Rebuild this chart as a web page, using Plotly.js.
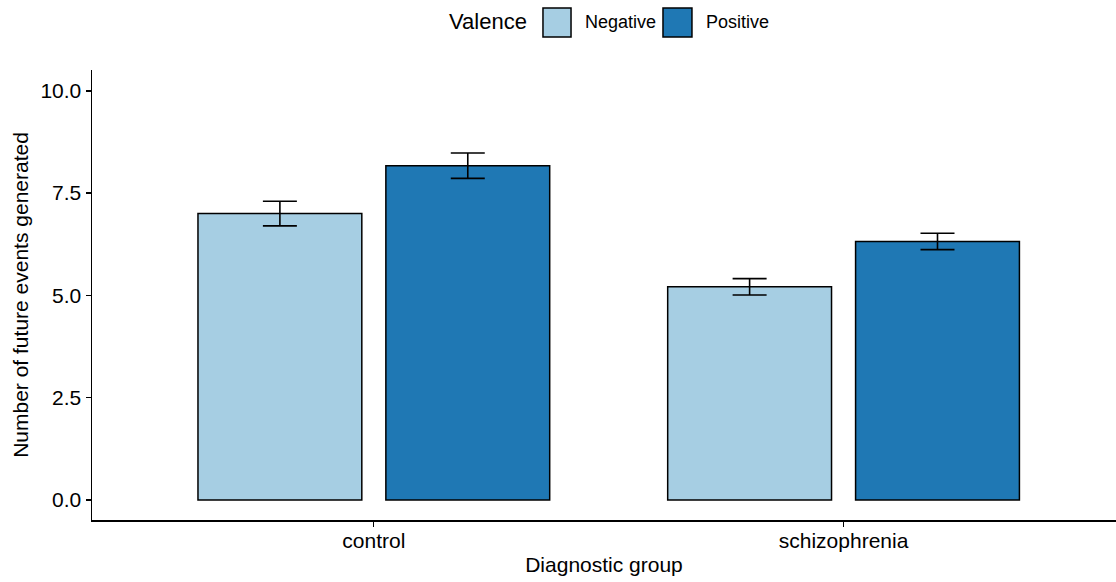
<!DOCTYPE html>
<html>
<head>
<meta charset="utf-8">
<script src="https://cdn.plot.ly/plotly-3.0.1.min.js"></script>
<style>html,body{margin:0;padding:0;background:#fff;}#chart{width:1116px;height:582px;}</style>
</head>
<body>
<div id="chart"></div>
<script>
const groups = ["control", "schizophrenia"];
const negativeMeans = [7.0, 5.21];
const negativeSE = [0.30, 0.20];
const positiveMeans = [8.17, 6.32];
const positiveSE = [0.31, 0.20];
const seriesNames = ["Negative", "Positive"];
const yTicks = [0, 2.5, 5, 7.5, 10];
const yTickLabels = ["0.0", "2.5", "5.0", "7.5", "10.0"];

const colors = ["#A6CEE3", "#1F78B4"];
const font = "Liberation Sans, Arial, sans-serif";

function barTrace(name, y, se, color) {
  return {
    type: "bar", name: name, x: groups, y: y,
    marker: {color: color, line: {color: "#000", width: 1.5}},
    error_y: {type: "data", array: se, visible: true, color: "#000", thickness: 1.6, width: 17},
    showlegend: false, hoverinfo: "x+y"
  };
}

const data = [
  barTrace(seriesNames[0], negativeMeans, negativeSE, colors[0]),
  barTrace(seriesNames[1], positiveMeans, positiveSE, colors[1])
];

const layout = {
  width: 1116, height: 582,
  margin: {l: 92, r: 0, t: 70, b: 62},
  paper_bgcolor: "#fff", plot_bgcolor: "#fff",
  font: {family: font, color: "#000"},
  barmode: "group", bargap: 0.2, bargroupgap: 0.128,
  xaxis: {
    type: "category", range: [-0.6, 1.58],
    showline: true, linecolor: "#000", linewidth: 1.5,
    ticks: "outside", ticklen: 5, tickwidth: 1.3, tickcolor: "#000",
    tickfont: {size: 21, family: font, color: "#000"},
    ticklabelstandoff: -4,
    showgrid: false, zeroline: false,
    title: {text: "Diagnostic group", font: {size: 21, family: font}, standoff: 6}
  },
  yaxis: {
    range: [-0.49, 10.51],
    tickvals: yTicks, ticktext: yTickLabels,
    showline: true, linecolor: "#000", linewidth: 1.5,
    ticks: "outside", ticklen: 5, tickwidth: 1.3, tickcolor: "#000",
    tickfont: {size: 21, family: font, color: "#000"},
    showgrid: false, zeroline: false,
    title: {text: "Number of future events generated", font: {size: 21, family: font}, standoff: 6}
  },
  shapes: [
    {type: "rect", xref: "paper", yref: "paper", x0: 0.4404, x1: 0.4678, y0: 1.0733, y1: 1.1378,
     fillcolor: colors[0], line: {color: "#000", width: 1.5}},
    {type: "rect", xref: "paper", yref: "paper", x0: 0.5576, x1: 0.5859, y0: 1.0733, y1: 1.1378,
     fillcolor: colors[1], line: {color: "#000", width: 1.5}}
  ],
  annotations: [
    {text: "Valence", xref: "paper", yref: "paper", x: 0.4265, y: 1.1067, xanchor: "right", yanchor: "middle",
     showarrow: false, font: {size: 22, family: font, color: "#000"}},
    {text: seriesNames[0], xref: "paper", yref: "paper", x: 0.4795, y: 1.1067, xanchor: "left", yanchor: "middle",
     showarrow: false, font: {size: 18, family: font, color: "#000"}},
    {text: seriesNames[1], xref: "paper", yref: "paper", x: 0.5976, y: 1.1067, xanchor: "left", yanchor: "middle",
     showarrow: false, font: {size: 18, family: font, color: "#000"}}
  ]
};

Plotly.newPlot("chart", data, layout, {displayModeBar: false, staticPlot: true});
</script>
</body>
</html>
